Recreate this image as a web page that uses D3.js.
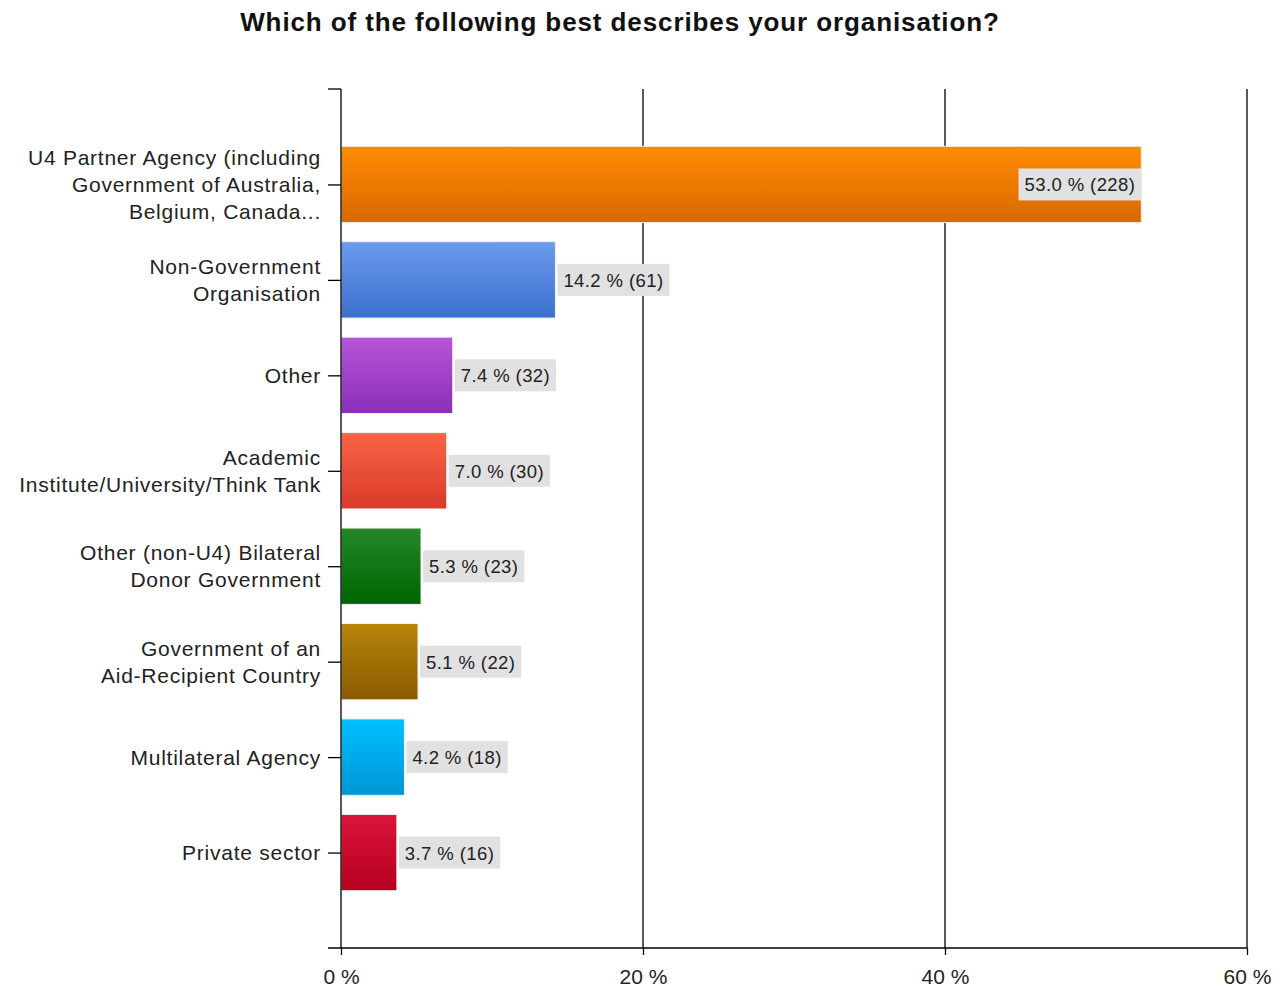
<!DOCTYPE html>
<html>
<head>
<meta charset="utf-8">
<script src="https://cdn.jsdelivr.net/npm/d3@7"></script>
<style>
  html, body { margin: 0; padding: 0; background: #fff; }
  svg { display: block; font-family: "Liberation Sans", Arial, sans-serif; }
</style>
</head>
<body>
<svg id="chart" width="1282" height="987"></svg>
<script>
// Survey responses by organisation type
const categories = [
  ["U4 Partner Agency (including", "Government of Australia,", "Belgium, Canada..."],
  ["Non-Government", "Organisation"],
  ["Other"],
  ["Academic", "Institute/University/Think Tank"],
  ["Other (non-U4) Bilateral", "Donor Government"],
  ["Government of an", "Aid-Recipient Country"],
  ["Multilateral Agency"],
  ["Private sector"]
];
const percents = [53.0, 14.2, 7.4, 7.0, 5.3, 5.1, 4.2, 3.7];
const counts = [228, 61, 32, 30, 23, 22, 18, 16];
const colorsTop = ["#ff8c00", "#6a9bee", "#b955d8", "#fb6446", "#25882a", "#b8860b", "#00bfff", "#dc143c"];
const colorsBottom = ["#d96800", "#3c6fcc", "#8a2fb8", "#d83b28", "#006400", "#8a5a00", "#0095d4", "#b5001e"];
const xTicks = [0, 20, 40, 60];

const svg = d3.select("#chart");
const plotLeft = 341, plotRight = 1247, plotTop = 89, plotBottom = 948;

const x = d3.scaleLinear().domain([0, 60]).range([plotLeft, plotRight]);
const y = d3.scalePoint().domain(d3.range(categories.length)).range([plotTop, plotBottom]).padding(1);
const barH = y.step() * 0.8;

// Title
svg.append("text")
  .attr("x", 620).attr("y", 31)
  .attr("text-anchor", "middle")
  .attr("font-size", 26).attr("font-weight", "bold").attr("fill", "#111")
  .attr("letter-spacing", 0.9)
  .text("Which of the following best describes your organisation?");

// Gradients for each bar
const defs = svg.append("defs");
percents.forEach((_, i) => {
  const g = defs.append("linearGradient").attr("id", "g" + i)
    .attr("x1", 0).attr("y1", 0).attr("x2", 0).attr("y2", 1);
  g.append("stop").attr("offset", "0%").attr("stop-color", colorsTop[i]);
  g.append("stop").attr("offset", "100%").attr("stop-color", colorsBottom[i]);
});

// Vertical grid lines
svg.append("g").selectAll("line").data(xTicks.slice(1)).join("line")
  .attr("x1", d => x(d)).attr("x2", d => x(d))
  .attr("y1", plotTop).attr("y2", plotBottom)
  .attr("stroke", "#000").attr("stroke-width", 1.3);

// Bars
svg.append("g").selectAll("rect").data(percents).join("rect")
  .attr("x", x(0))
  .attr("y", (d, i) => y(i) - barH / 2)
  .attr("width", d => x(d) - x(0))
  .attr("height", barH)
  .attr("fill", (d, i) => `url(#g${i})`)
  .attr("stroke", "#f2f2f2").attr("stroke-width", 1);

// Y axis
const yAxis = svg.append("g").attr("transform", `translate(${plotLeft},0)`)
  .call(d3.axisLeft(y).tickSize(13).tickFormat(""));
yAxis.select(".domain").remove();
yAxis.selectAll("line").attr("stroke", "#000").attr("stroke-width", 1.3);
svg.append("line").attr("x1", plotLeft).attr("x2", plotLeft).attr("y1", plotTop).attr("y2", plotBottom)
  .attr("stroke", "#000").attr("stroke-width", 1.3);
svg.append("line").attr("x1", plotLeft - 13).attr("x2", plotLeft).attr("y1", plotTop).attr("y2", plotTop)
  .attr("stroke", "#000").attr("stroke-width", 1.3);

// Category labels
const lineH = 27;
const lab = svg.append("g").selectAll("text").data(categories).join("text")
  .attr("text-anchor", "end")
  .attr("font-size", 21).attr("fill", "#222")
  .attr("letter-spacing", 0.75)
  .attr("x", 321)
  .attr("y", (d, i) => y(i) - (d.length - 1) * lineH / 2 + 7.5);
lab.selectAll("tspan").data(d => d).join("tspan")
  .attr("x", 321)
  .attr("dy", (d, j) => j === 0 ? 0 : lineH)
  .text(d => d);

// X axis
const xAxis = svg.append("g").attr("transform", `translate(0,${plotBottom})`)
  .call(d3.axisBottom(x).tickValues(xTicks).tickSize(7).tickPadding(14).tickFormat(d => d + " %"));
xAxis.select(".domain").remove();
xAxis.selectAll("line").attr("stroke", "#000").attr("stroke-width", 1.3);
xAxis.selectAll("text").attr("font-size", 21).attr("fill", "#222")
  .attr("font-family", "\"Liberation Sans\", Arial, sans-serif");
svg.append("line").attr("x1", plotLeft - 13).attr("x2", plotRight).attr("y1", plotBottom).attr("y2", plotBottom)
  .attr("stroke", "#000").attr("stroke-width", 1.3);

// Value labels with grey boxes
const vg = svg.append("g");
percents.forEach((p, i) => {
  const label = `${p.toFixed(1)} % (${counts[i]})`;
  const t = vg.append("text")
    .attr("font-size", 18.5).attr("fill", "#222")
    .attr("letter-spacing", 0.4)
    .text(label);
  const w = t.node().getComputedTextLength();
  const boxW = w + 12, boxH = 32;
  const inside = x(p) + boxW + 4 > x(50);
  const bx = inside ? x(p) - boxW : x(p) + 2;
  const cy = y(i);
  vg.insert("rect", "text")
    .attr("x", bx).attr("y", cy - boxH / 2)
    .attr("width", boxW).attr("height", boxH)
    .attr("fill", "#e1e1e1");
  t.attr("x", bx + 6).attr("y", cy + 7);
});
</script>
</body>
</html>
